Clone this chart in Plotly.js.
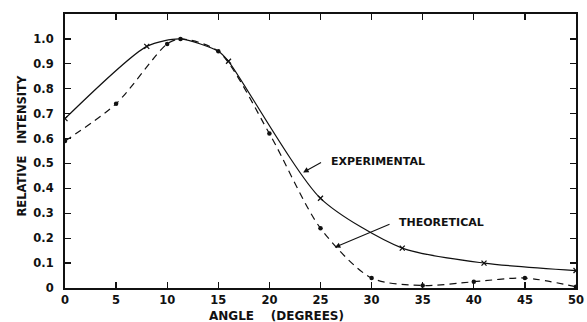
<!DOCTYPE html>
<html><head><meta charset="utf-8">
<script src="https://cdn.plot.ly/plotly-3.0.1.min.js"></script>
<style>html,body{margin:0;padding:0;background:#fff}</style>
</head><body>
<div id="chart" style="width:587px;height:322px"></div>
<script>
// Experimental (x markers, solid line)
const expAngle = [0, 8, 16, 25, 33, 41, 50];
const expIntensity = [0.68, 0.97, 0.91, 0.36, 0.16, 0.10, 0.07];
// Experimental smooth curve
const expCurveAngle = [0, 8, 11.3, 15, 16, 25, 33, 41, 50];
const expCurveIntensity = [0.68, 0.97, 1.0, 0.95, 0.91, 0.36, 0.16, 0.10, 0.07];
// Theoretical (dot markers, dashed line)
const theoAngle = [0, 5, 10, 11.3, 15, 20, 25, 30, 35, 40, 45, 50];
const theoIntensity = [0.59, 0.74, 0.98, 1.0, 0.95, 0.62, 0.24, 0.04, 0.01, 0.025, 0.04, 0.005];
// Tick labels
const xTickVals = [0, 5, 10, 15, 20, 25, 30, 35, 40, 45, 50];
const xTickText = ["0", "5", "10", "15", "20", "25", "30", "35", "40", "45", "50"];
const yTickVals = [0, 0.1, 0.2, 0.3, 0.4, 0.5, 0.6, 0.7, 0.8, 0.9, 1.0];
const yTickText = ["0", "0.1", "0.2", "0.3", "0.4", "0.5", "0.6", "0.7", "0.8", "0.9", "1.0"];

const FONT = "DejaVu Sans, Liberation Sans, sans-serif";

const traces = [
  {
    x: theoAngle, y: theoIntensity, type: "scatter", mode: "lines+markers",
    line: {color: "#111", width: 1.2, dash: "7px,5px", shape: "spline", smoothing: 0.8},
    marker: {symbol: "circle", size: 4.5, color: "#111"},
    name: "THEORETICAL"
  },
  {
    x: expCurveAngle, y: expCurveIntensity, type: "scatter", mode: "lines",
    line: {color: "#111", width: 1.2, shape: "spline", smoothing: 0.7},
    name: "EXPERIMENTAL curve"
  },
  {
    x: expAngle, y: expIntensity, type: "scatter", mode: "markers",
    marker: {symbol: "x-thin", size: 5, color: "#111", line: {width: 1.3, color: "#111"}},
    name: "EXPERIMENTAL"
  }
];

const nb = "\u00a0";
const layout = {
  width: 587, height: 322,
  margin: {l: 65, r: 11, t: 14, b: 34},
  paper_bgcolor: "#fff", plot_bgcolor: "#fff",
  showlegend: false,
  font: {family: FONT, color: "#111", size: 11},
  xaxis: {
    range: [0, 50], tickvals: xTickVals, ticktext: xTickText,
    showgrid: false, zeroline: false, showline: true, linewidth: 2, linecolor: "#111",
    mirror: "ticks", ticks: "inside", ticklen: 6, tickwidth: 1.3, tickcolor: "#111",
    tickfont: {family: FONT, size: 11.5, color: "#111", weight: "bold"},
    ticklabelstandoff: 0,
    fixedrange: true
  },
  yaxis: {
    range: [0, 1.1], tickvals: yTickVals, ticktext: yTickText,
    showgrid: false, zeroline: false, showline: true, linewidth: 2, linecolor: "#111",
    mirror: "ticks", ticks: "inside", ticklen: 6, tickwidth: 1.3, tickcolor: "#111",
    tickfont: {family: FONT, size: 11.5, color: "#111", weight: "bold"},
    ticklabelstandoff: 7,
    fixedrange: true
  },
  annotations: [
    {x: 23.3, y: 0.464, ax: 25.2, ay: 0.507, xref: "x", yref: "y", axref: "x", ayref: "y",
     text: "", showarrow: true, arrowhead: 2, arrowsize: 1, arrowwidth: 1.1, arrowcolor: "#111", standoff: 0},
    {x: 25.8, y: 0.508, xref: "x", yref: "y", xanchor: "left", yanchor: "middle",
     text: "EXPERIMENTAL", showarrow: false, font: {family: FONT, size: 11, color: "#111", weight: "bold"}},
    {x: 26.4, y: 0.163, ax: 31.9, ay: 0.258, xref: "x", yref: "y", axref: "x", ayref: "y",
     text: "", showarrow: true, arrowhead: 2, arrowsize: 1, arrowwidth: 1.1, arrowcolor: "#111", standoff: 0},
    {x: 32.45, y: 0.263, xref: "x", yref: "y", xanchor: "left", yanchor: "middle",
     text: "THEORETICAL", showarrow: false, font: {family: FONT, size: 11, color: "#111", weight: "bold"}},
    {x: 20.7, y: -0.103, xref: "x", yref: "paper", xanchor: "center", yanchor: "middle",
     text: "ANGLE" + nb + nb + nb + nb + "(DEGREES)", showarrow: false,
     font: {family: FONT, size: 12, color: "#111", weight: "bold"}},
    {x: -0.086, y: 0.52, xref: "paper", yref: "paper", xanchor: "center", yanchor: "middle",
     textangle: -90, text: "RELATIVE" + nb + nb + nb + "INTENSITY", showarrow: false,
     font: {family: FONT, size: 11.5, color: "#111", weight: "bold"}}
  ]
};

Plotly.newPlot("chart", traces, layout, {staticPlot: true, displayModeBar: false});
</script>
</body></html>
